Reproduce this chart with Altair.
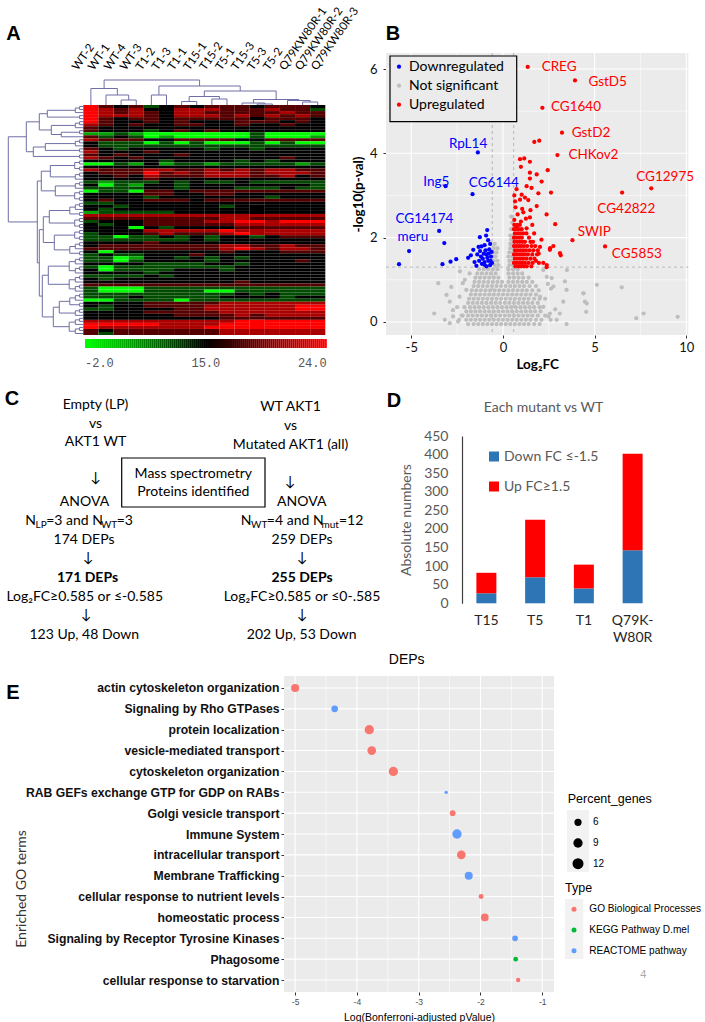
import altair as alt
import numpy as np
import pandas as pd

# ============================ panel A : clustered heat map ============================
samples = ["WT-2", "WT-1", "WT-4", "WT-3", "T1-2", "T1-3", "T1-1", "T15-1",
           "T15-2", "T5-1", "T15-3", "T5-3", "T5-2",
           "Q79KW80R-1", "Q79KW80R-2", "Q79KW80R-3"]

# intensity codes: G bright green ... k black ... X bright red
level_code = {"G": -2.0, "g": 4.0, "d": 10.0, "k": 15.0, "r": 18.0, "R": 21.0, "X": 24.0}

heat_rows = [
    "Xrkrdkrkrrrkrrrk", "XRrRkkRRRrrrRrrd", "XRrRrkRRrrrrrRrr", "XRRRrkRRRrRrRrRr",
    "Xrkrrkrrrrrkrrrk", "Xrkkrkrkkkrrrkrk", "Rrkrkkrrkkrkkrkk", "rkkkkkkkkkkkkkkk",
    "rkkkdkrkrkkkkkkk", "ggdgGGGGGGGdGGGG", "rdkdGgGGGGGdGGGg", "Rrrrkkrrrrkkrrrr",
    "kdddGdGdGGGdGdGG", "kddddddddddddddd", "rkdkkkkkdkkdkkkk", "Rkkkrkkkkkkkkkkk",
    "rkrkkkrkkkkkkkkk", "Rrkrkkkkkkkkkrkk", "kkkkkdkkkkdkdkkk", "GGdgkgddgdddddgd",
    "kkkkkkkkkkkkkkkk", "RrrrRRrrRrRrRRrr", "krrrXrRrRRRrRRRr", "kkrkRrrrRRRrrRkr",
    "kkkkrkkkkkkkkkkk", "dgdddkdkddkddddd", "kGdgkkdkkkkkkkkd", "ddddkkdkkkdddkdd",
    "GddGrrkrrrrrrrrr", "kkkkrrkkrrkkkkkk", "kkkkdkkkkkkkdkkk", "krkkrrrkrrrrrrrr",
    "ddkkkkkkkkkkkkkk", "kkdkkkkkkdkkkkkk", "kdkkkkkkkkkkkkkk", "gdddddkkkkkkkkkk",
    "RRRRRRRRRRRRRRRR", "rrrrrrrrrRRrrrrr", "dkkkrrrrRRXXRXXX", "kdkkrrrrrrRRRRRR",
    "kkkGkdkkkkrrrrrr", "kkkkRRRRRXRRRRRR", "dkkkrRrrrRXRRRRR", "ddGddkdkdkkdkrrr",
    "dddddddkdkkkkkkk", "kkkkrkkkkkkkkkkk", "krrrrrrrrRRrrRrr", "rrrrrrrrrRXRrRRr",
    "kGkkkkkkkrkkkrrr", "dkddkkkrkkkkkkkk", "ddGgkkdkdkdkkkkk", "ddGdkkkkdkkkkkrk",
    "kkkkddddkkdkkkkk", "dGddddddddkkkkkk", "kGddddkkkdkkkkkk", "kkkkdkkkkkkkkkkk",
    "ddddkdkkkkkkkkkk", "kdkkkkkkkkkkkkkk", "kkkkkkkkkkrkkkkk", "rrrrrrrrrrrrrrrr",
    "dGGGdddddddddddd", "dGGGddddGGdddddd", "ddddddddddkdkddd", "dddkdddddkkkkdkk",
    "GGddddGddddddddd", "kkkkrrrrrRRRRRRR", "kdkkrrrrRRRRRRXX", "ddkkkkrrRRRRRRXX",
    "kkkkrrrrrRRRRRRR", "kkkkkkrrrrRrRRRR", "kkkkkkkkkrrrrrrr", "RRRRRRRRRRXXXXXX",
    "XXXXXRRRRXXXXXXX", "XRRRRRRRXXXXXXXX", "rkrrrrrrrRRRRRRR", "rdrrrrrrrRRRRRRR",
]

# sample tree, scipy style: (left id, right id, merge height in px)
sample_merges = [(2, 3, 5.0), (1, 16, 10.0), (0, 17, 16.5), (4, 5, 10.0),
                 (6, 7, 3.5), (8, 9, 6.0), (20, 21, 8.5), (11, 12, 1.0),
                 (10, 23, 2.0), (14, 15, 3.0), (13, 25, 4.5), (24, 26, 5.5),
                 (22, 27, 14.0), (19, 28, 19.0), (18, 29, 25.0)]

# protein tree: [merge height px, left, right]; an integer is a tight block of rows
protein_tree = [75,
                [57, [44, [36, 3, 2], [32, 3, [22, 2, 1]]], [50, [38, 3, 2], 2]],
                [46, [42, [33, 4, 3], [28, 3, 4]],
                 [44, [40, [34, 5, 4], [29, 4, 5]],
                  [41, [35, 6, 6], [30, [24, 5, 3], 6]]]]]

# ============================ panel B : volcano plot ============================
gray_rows = [
    (-0.05, [-1.9, -1.6, -1.35, -1.1, -0.85, -0.6, -0.35, -0.1, 0.15, 0.4, 0.65, 0.9, 1.15, 1.4, 1.7, 2.0]),
    (0.05, [-2.4, -2.0, -1.75, -1.5, -1.25, -1.0, -0.75, -0.5, -0.25, 0.0, 0.25, 0.5, 0.75, 1.0, 1.25, 1.5, 1.8, 2.1, 2.6]),
    (0.15, [-2.2, -1.9, -1.65, -1.4, -1.15, -0.9, -0.65, -0.4, -0.15, 0.1, 0.35, 0.6, 0.85, 1.1, 1.35, 1.6, 1.9, 2.3]),
    (0.25, [-2.0, -1.75, -1.5, -1.25, -1.0, -0.75, -0.5, -0.25, 0.0, 0.25, 0.5, 0.75, 1.0, 1.25, 1.5, 1.75, 2.05]),
    (0.35, [-2.1, -1.8, -1.55, -1.3, -1.05, -0.8, -0.55, -0.3, -0.05, 0.2, 0.45, 0.7, 0.95, 1.2, 1.45, 1.7, 2.0]),
    (0.45, [-1.9, -1.65, -1.4, -1.15, -0.9, -0.65, -0.4, -0.15, 0.1, 0.35, 0.6, 0.85, 1.1, 1.35, 1.6, 1.9]),
    (0.55, [-1.85, -1.6, -1.35, -1.1, -0.85, -0.6, -0.35, -0.1, 0.15, 0.4, 0.65, 0.9, 1.15, 1.4, 1.7, 2.0]),
    (0.65, [-1.75, -1.5, -1.25, -1.0, -0.75, -0.5, -0.25, 0.0, 0.25, 0.5, 0.75, 1.0, 1.25, 1.5, 1.8]),
    (0.75, [-1.7, -1.45, -1.2, -0.95, -0.7, -0.45, -0.2, 0.05, 0.3, 0.55, 0.8, 1.05, 1.3, 1.6, 1.95]),
    (0.85, [-1.6, -1.35, -1.1, -0.85, -0.6, -0.35, -0.1, 0.15, 0.4, 0.65, 0.9, 1.15, 1.45, 1.8]),
    (0.95, [-1.55, -1.3, -1.05, -0.8, -0.55, -0.3, -0.05, 0.3, 0.55, 0.8, 1.05, 1.3, 1.6]),
    (1.05, [-1.5, -1.25, -1.0, -0.75, -0.5, -0.25, 0.35, 0.6, 0.85, 1.1, 1.4]),
    (1.15, [-1.4, -1.15, -0.9, -0.65, -0.4, 0.3, 0.55, 0.8, 1.05]),
    (1.25, [-1.3, -1.05, -0.8, -0.55, -0.3, 0.3, 0.55, 0.8]),
    (1.35, [-1.0, -0.7, -0.45, -0.25, 0.35, 0.55]),
    (1.45, [-0.5, -0.3, 0.35, 0.5]),
    (1.55, [-0.55, -0.4, 0.3, 0.5]),
    (1.65, [-0.5, -0.35, 0.35, 0.55]),
    (1.75, [-0.5, -0.3, 0.4, 0.55]),
    (1.85, [-0.45, 0.4, 0.52]),
    (1.95, [0.45, 0.55]),
    (2.05, [0.4, 0.55]),
    (2.2, [0.45, 0.55]),
    (2.35, [0.5]),
    (2.5, [0.45]),
]
gray_sparse = [(-3.75, 0.2), (-3.53, 0.92), (-3.08, 0.64), (-3.17, 0.05), (-2.9, -0.03), (-2.9, 0.48),
               (-2.72, 0.13), (-2.45, 0.01), (-2.35, 1.2), (-2.08, 1.0), (-2.0, 0.76), (-2.37, 0.6),
               (-2.73, 0.28), (-2.19, 0.92), (-2.82, 0.83), (-1.82, 1.15), (-2.5, 0.35), (-2.25, 0.15),
               (2.2, 1.23), (2.39, 1.07), (2.66, 1.04), (2.75, 0.84), (3.38, 0.96), (3.47, 0.76),
               (3.29, 0.48), (4.38, 0.68), (4.47, 0.48), (2.2, 0.36), (2.48, 0.13), (2.93, 0.05),
               (2.02, 0.6), (5.12, 0.88), (6.48, 0.82), (7.27, 0.09), (7.67, 0.2), (9.53, 0.12),
               (3.49, 1.23), (4.4, 0.68), (4.57, 0.44), (4.54, 0.24), (2.62, 0.79), (3.47, -0.05),
               (2.56, 0.2), (2.3, 0.55), (2.85, 0.3), (3.1, 0.2), (2.45, 0.9)]

down_pts = [(-1.37, 4.02), (-3.13, 3.22), (-1.66, 3.03), (-3.48, 2.16), (-5.12, 1.68),
            (-3.2, 1.87), (-5.67, 1.37), (-3.3, 1.37), (-2.86, 1.43), (-2.55, 1.49), (-0.86, 2.18),
            (-1.26, 2.01), (-0.81, 1.94), (-0.7, 1.85), (-1.17, 1.79), (-1.0, 1.82), (-0.75, 1.72),
            (-1.62, 1.71), (-1.4, 1.6), (-1.75, 1.58), (-1.9, 1.52), (-1.2, 1.55), (-1.05, 1.62),
            (-0.9, 1.6), (-0.65, 1.55), (-0.8, 1.45), (-1.0, 1.42), (-1.15, 1.38), (-1.3, 1.45),
            (-0.7, 1.35), (-0.9, 1.32), (-1.55, 1.42), (-1.45, 1.33), (-0.62, 1.66), (-1.1, 1.5),
            (-0.85, 1.52), (-0.95, 1.7), (-0.68, 1.45), (-1.25, 1.68), (-0.78, 1.62), (-1.02, 1.36),
            (-0.6, 1.4), (-1.33, 1.78), (-0.92, 2.05)]

up_pts = [(1.35, 6.05), (3.93, 5.73), (2.15, 5.08), (3.22, 4.49), (2.97, 3.96), (8.09, 3.17),
          (6.5, 3.07), (3.79, 1.94), (5.57, 1.79),
          (1.71, 4.27), (1.98, 4.3), (0.93, 3.86), (1.16, 3.88), (1.47, 3.8), (0.98, 3.68),
          (1.47, 3.54), (1.84, 3.5), (2.44, 3.6), (2.11, 3.33), (1.47, 3.4), (2.62, 3.07),
          (0.74, 3.15), (1.29, 3.22), (1.56, 3.18), (1.02, 3.02), (1.93, 3.05), (0.62, 3.0),
          (0.66, 2.86), (0.93, 2.9), (1.38, 2.89), (1.84, 2.75), (0.68, 2.72), (1.11, 2.6),
          (1.47, 2.48), (2.38, 2.55), (0.8, 2.55), (2.85, 2.32), (0.62, 2.42), (0.98, 2.38),
          (1.29, 2.22), (1.7, 2.1), (0.74, 2.25), (2.02, 1.78), (2.57, 1.75), (2.75, 1.8),
          (3.11, 1.63), (3.15, 1.58), (2.56, 1.71), (2.38, 1.3), (2.2, 1.4), (2.39, 1.35),
          (1.8, 1.45), (1.95, 1.62), (2.1, 1.95), (1.6, 2.3), (1.25, 2.45), (1.05, 2.68),
          (1.5, 2.65), (1.2, 2.95)]
up_rows = [
    (2.3, [0.62, 0.78, 0.92]),
    (2.2, [0.6, 0.72, 0.86, 1.02]),
    (2.1, [0.65, 0.8, 0.95, 1.1, 1.28]),
    (2.0, [0.6, 0.73, 0.88, 1.03, 1.42]),
    (1.9, [0.63, 0.78, 0.92, 1.06, 1.2, 1.5, 1.64]),
    (1.8, [0.6, 0.74, 0.87, 1.0, 1.15, 1.32, 1.56, 1.76]),
    (1.7, [0.66, 0.8, 0.95, 1.1, 1.26, 1.45, 1.66, 1.9]),
    (1.6, [0.6, 0.73, 0.88, 1.03, 1.18, 1.36, 1.6, 1.86]),
    (1.5, [0.65, 0.8, 0.95, 1.1, 1.28, 1.5, 1.72]),
    (1.4, [0.6, 0.75, 0.9, 1.05, 1.2, 1.4, 1.62, 1.96]),
    (1.32, [0.68, 0.85, 1.0, 1.15, 1.3, 1.55]),
]

up_names = ["CREG", "GstD5", "CG1640", "GstD2", "CHKov2", "CG12975", "CG42822", "SWIP", "CG5853"]
up_label_fc = [2.11, 4.66, 2.62, 3.75, 3.57, 7.27, 5.15, 4.08, 5.94]
up_label_p = [6.05, 5.69, 5.09, 4.49, 3.96, 3.44, 2.67, 2.13, 1.61]
down_names = ["RpL14", "Ing5", "CG6144", "CG14174", "meru"]
down_label_fc = [-2.95, -4.35, -1.86, -5.86, -5.75]
down_label_p = [4.23, 3.32, 3.29, 2.44, 2.01]

# ============================ panel D : DEP counts ============================
mutants = ["T15", "T5", "T1", "Q79K-W80R"]
n_down = [27, 70, 40, 143]
n_up = [55, 155, 64, 259]
kinds = ["Down FC ≤-1.5", "Up FC≥1.5"]

# ============================ panel E : enrichment ============================
go_terms = ["actin cytoskeleton organization", "Signaling by Rho GTPases", "protein localization",
            "vesicle-mediated transport", "cytoskeleton organization",
            "RAB GEFs exchange GTP for GDP on RABs", "Golgi vesicle transport", "Immune System",
            "intracellular transport", "Membrane Trafficking",
            "cellular response to nutrient levels", "homeostatic process",
            "Signaling by Receptor Tyrosine Kinases", "Phagosome", "cellular response to starvation"]
go_logp = [-5.0, -4.36, -3.8, -3.76, -3.41, -2.555, -2.45, -2.38, -2.31, -2.19, -1.99, -1.93,
           -1.44, -1.43, -1.39]
go_pct = [7.0, 5.3, 9.0, 8.0, 9.0, 2.3, 4.2, 9.0, 8.0, 7.0, 3.5, 6.6, 4.2, 3.3, 3.0]
type_names = ["GO Biological Processes", "KEGG Pathway D.mel", "REACTOME pathway"]
go_type = [0, 2, 0, 0, 0, 2, 0, 2, 0, 2, 0, 0, 2, 1, 0]

# ============================ flow chart (panel C) ============================
c_lines = [("Empty (LP)", 95.5, 405, False), ("vs", 95.5, 424, False), ("AKT1 WT", 95.5, 442, False),
           ("↓", 95.5, 478, False), ("ANOVA", 84.5, 502, False), ("174 DEPs", 84.0, 540, False),
           ("↓", 88.0, 558, False), ("171 DEPs", 87.5, 578, True),
           ("Log₂FC≥0.585 or ≤-0.585", 84.7, 597, False), ("↓", 86.0, 615, False),
           ("123 Up, 48 Down", 84.3, 635, False),
           ("WT AKT1", 290.5, 407, False), ("vs", 290.5, 426, False),
           ("Mutated AKT1 (all)", 290.5, 445, False), ("↓", 290.0, 482, False),
           ("ANOVA", 301.7, 502, False), ("259 DEPs", 302.0, 540, False), ("↓", 302.0, 558, False),
           ("255 DEPs", 302.0, 578, True), ("Log₂FC≥0.585 or ≤0-.585", 302.0, 597, False),
           ("↓", 302.0, 615, False), ("202 Up, 53 Down", 301.7, 635, False),
           ("Mass spectrometry", 193.3, 474, False), ("Proteins identified", 193.3, 492, False)]
# group sizes written with subscripts: (pieces, centre x, y); True marks a subscript
c_sub_lines = [([("N", False), ("LP", True), ("=3 and N", False), ("WT", True), ("=3", False)], 79.0, 521),
               ([("N", False), ("WT", True), ("=4 and N", False), ("mut", True), ("=12", False)], 302.0, 521)]
c_box = (121.7, 265.0, 458.0, 507.0)

FONT = "Lato"
ARIAL = "Liberation Sans"
PAGE_W, PAGE_H = 705, 1022

# The whole figure is one canvas; every panel owns its scales, whose ranges are the
# pixel extents of that panel's plotting area.


def letter(ch, x, y):
    return alt.Chart(pd.DataFrame({"t": [ch]})).mark_text(
        font=ARIAL, fontWeight="bold", fontSize=20, align="center", baseline="middle", color="black"
    ).encode(text="t:N", x=alt.value(x), y=alt.value(y))


def note(txt, x, y, **kw):
    opts = dict(font=FONT, fontSize=14, align="center", baseline="middle", color="black")
    opts.update(kw)
    return alt.Chart(pd.DataFrame({"t": [txt]})).mark_text(**opts).encode(
        text="t:N", x=alt.value(x), y=alt.value(y))


def one():
    return pd.DataFrame({"a": [0]})


layers = []

# ------------------------------------------------------------------ panel A
HEAT_X0, HEAT_X1, HEAT_Y0, HEAT_Y1 = 83.3, 325.3, 105.0, 335.0
n_cols, n_rows = len(samples), len(heat_rows)
COL_PX = (HEAT_X1 - HEAT_X0) / n_cols
ROW_PX = (HEAT_Y1 - HEAT_Y0) / n_rows
axs = alt.Scale(domain=[0, n_cols], range=[HEAT_X0, HEAT_X1], nice=False, zero=False)
ays = alt.Scale(domain=[0, n_rows], range=[HEAT_Y0, HEAT_Y1], nice=False, zero=False)
heat_color = alt.Scale(domain=[-2, 15, 24], range=["#00ff00", "#000000", "#ff0000"], interpolate="rgb")


def ax_(f):
    return alt.X(f, scale=axs, axis=None)


def ay_(f):
    return alt.Y(f, scale=ays, axis=None)


cells = []
for r, row in enumerate(heat_rows):
    row = row[:n_cols].ljust(n_cols, "k")
    for c, ch in enumerate(row):
        cells.append({"c": c, "c2": c + 1, "r": r, "r2": r + 1, "v": level_code[ch]})
heat_df = pd.DataFrame(cells)

segs = []


def row_link(c1, h1, c2, h2, h):
    segs.append((-h1 / COL_PX, c1, -h / COL_PX, c1))
    segs.append((-h2 / COL_PX, c2, -h / COL_PX, c2))
    segs.append((-h / COL_PX, c1, -h / COL_PX, c2))


counter = [0]


def block(n):
    if n == 1:
        r = counter[0]
        counter[0] += 1
        return r + 0.5, 0.0
    a = (n + 1) // 2
    c1, h1 = block(a)
    c2, h2 = block(n - a)
    h = max(h1, h2) + 2.5 + 0.6 * n
    row_link(c1, h1, c2, h2, h)
    return (c1 + c2) / 2, h


def grow(node):
    if isinstance(node, int):
        return block(node)
    h, left, right = node
    c1, h1 = grow(left)
    c2, h2 = grow(right)
    row_link(c1, h1, c2, h2, h)
    return (c1 + c2) / 2, h


grow(protein_tree)

pos = {i: (i + 0.5, 0.0) for i in range(n_cols)}
for k, (a, b, h) in enumerate(sample_merges):
    (xa, ha), (xb, hb) = pos[a], pos[b]
    segs.append((xa, -ha / ROW_PX, xa, -h / ROW_PX))
    segs.append((xb, -hb / ROW_PX, xb, -h / ROW_PX))
    segs.append((xa, -h / ROW_PX, xb, -h / ROW_PX))
    pos[n_cols + k] = ((xa + xb) / 2, h)
seg_df = pd.DataFrame(segs, columns=["x", "y", "x2", "y2"])

layers.append(alt.Chart(heat_df).mark_rect(strokeWidth=0).encode(
    x=ax_("c:Q"), x2="c2:Q", y=ay_("r:Q"), y2="r2:Q",
    color=alt.Color("v:Q", scale=heat_color, legend=None)))
layers.append(alt.Chart(seg_df).mark_rule(color="#6f6fa6", strokeWidth=1).encode(
    x=ax_("x:Q"), x2="x2:Q", y=ay_("y:Q"), y2="y2:Q"))

lab_df = pd.DataFrame({
    "t": samples,
    "x": [c + 0.5 + (-13 + 0.8 * c) / COL_PX for c in range(n_cols)],
    "y": [(71 - HEAT_Y0) / ROW_PX] * n_cols})
layers.append(alt.Chart(lab_df).mark_text(
    angle=305, align="left", baseline="alphabetic", font=FONT, fontSize=11.5, color="black"
).encode(x=ax_("x:Q"), y=ay_("y:Q"), text="t:N"))

# colour key under the heat map (value -> position is piecewise, like the colour scale)
CB_X0, CB_X1 = (85 - HEAT_X0) / COL_PX, (326.7 - HEAT_X0) / COL_PX
CB_Y0, CB_Y1 = (339 - HEAT_Y0) / ROW_PX, (348 - HEAT_Y0) / ROW_PX
n_cb = 120
cb_df = pd.DataFrame({
    "x": [CB_X0 + (CB_X1 - CB_X0) * i / n_cb for i in range(n_cb)],
    "x2": [CB_X0 + (CB_X1 - CB_X0) * (i + 1.05) / n_cb for i in range(n_cb)],
    "y": [CB_Y0] * n_cb, "y2": [CB_Y1] * n_cb,
    "v": [float(np.interp((i + 0.5) / n_cb, [0, 0.5, 1], [-2, 15, 24])) for i in range(n_cb)]})
layers.append(alt.Chart(cb_df).mark_rect(strokeWidth=0).encode(
    x=ax_("x:Q"), x2="x2:Q", y=ay_("y:Q"), y2="y2:Q",
    color=alt.Color("v:Q", scale=heat_color, legend=None)))
cb_lab_y = (362.5 - HEAT_Y0) / ROW_PX
for txt, xv, al in [("-2.0", CB_X0, "left"), ("15.0", (CB_X0 + CB_X1) / 2, "center"), ("24.0", CB_X1, "right")]:
    layers.append(alt.Chart(pd.DataFrame({"t": [txt], "x": [xv], "y": [cb_lab_y]})).mark_text(
        font="Liberation Mono", fontSize=12, color="#555555", align=al, baseline="middle"
    ).encode(x=ax_("x:Q"), y=ay_("y:Q"), text="t:N"))
layers.append(letter("A", 13.5, 34))

# ------------------------------------------------------------------ panel B
BX0, BX1, BY0, BY1 = 386.0, 688.3, 53.0, 335.0
bxs = alt.Scale(domain=[-6.38, 10.11], range=[BX0, BX1], nice=False, zero=False)
bys = alt.Scale(domain=[-0.31, 6.38], range=[BY1, BY0], nice=False, zero=False)
bx_axis = alt.Axis(orient="bottom", offset=BY1 - PAGE_H, values=[-5, 0, 5, 10], grid=False, domain=False,
                   tickColor="#333333", tickSize=3, labelFont=FONT, labelFontSize=13, labelColor="#111111",
                   labelPadding=3, labelExpr="'' + datum.value", title="Log₂FC", titleFont=FONT,
                   titleFontSize=13.5, titleFontWeight="bold", titleColor="black", titlePadding=3)
by_axis = alt.Axis(orient="left", offset=-BX0, values=[0, 2, 4, 6], grid=False, domain=False,
                   tickColor="#333333", tickSize=3, labelFont=FONT, labelFontSize=13, labelColor="#111111",
                   labelPadding=6, title="-log10(p-val)", titleFont=FONT, titleFontSize=13.5,
                   titleFontWeight="bold", titleColor="black", titlePadding=4)


def bx(field, axis=None):
    return alt.X(field, scale=bxs, axis=axis)


def by(field, axis=None):
    return alt.Y(field, scale=bys, axis=axis)


gray_df = pd.DataFrame([(fc, p) for p, fcs in gray_rows for fc in fcs] + gray_sparse, columns=["fc", "p"])
down_df = pd.DataFrame(down_pts, columns=["fc", "p"])
up_df = pd.DataFrame(up_pts + [(fc, p) for p, fcs in up_rows for fc in fcs], columns=["fc", "p"])

layers.append(alt.Chart(one()).mark_rect(color="#ebebeb").encode(
    x=alt.value(BX0), x2=alt.value(BX1), y=alt.value(BY0), y2=alt.value(BY1)))
for vals, w in [([-2.5, 2.5, 7.5], 0.55), ([-5, 0, 5, 10], 1.1)]:
    layers.append(alt.Chart(pd.DataFrame({"v": vals})).mark_rule(color="white", strokeWidth=w).encode(
        x=bx("v:Q"), y=alt.value(BY0), y2=alt.value(BY1)))
for vals, w in [([1, 3, 5], 0.55), ([0, 2, 4, 6], 1.1)]:
    layers.append(alt.Chart(pd.DataFrame({"v": vals})).mark_rule(color="white", strokeWidth=w).encode(
        y=by("v:Q"), x=alt.value(BX0), x2=alt.value(BX1)))
layers.append(alt.Chart(pd.DataFrame({"v": [-0.585, 0.585]})).mark_rule(
    color="#a0a0a0", strokeWidth=0.7, strokeDash=[3, 3]).encode(
    x=bx("v:Q"), y=alt.value(BY0), y2=alt.value(BY1)))
layers.append(alt.Chart(pd.DataFrame({"v": [1.3]})).mark_rule(
    color="#a0a0a0", strokeWidth=0.7, strokeDash=[3, 3]).encode(
    y=by("v:Q"), x=alt.value(BX0), x2=alt.value(BX1)))
layers.append(alt.Chart(gray_df).mark_circle(size=18, color="#bebebe", opacity=1).encode(
    x=bx("fc:Q", bx_axis), y=by("p:Q", by_axis)))
layers.append(alt.Chart(down_df).mark_circle(size=18, color="#0000ff", opacity=1).encode(
    x=bx("fc:Q"), y=by("p:Q")))
layers.append(alt.Chart(up_df).mark_circle(size=18, color="#ff0000", opacity=1).encode(
    x=bx("fc:Q"), y=by("p:Q")))
layers.append(alt.Chart(pd.DataFrame({"t": up_names, "fc": up_label_fc, "p": up_label_p})).mark_text(
    font=FONT, fontSize=13.5, color="#ff0000", align="left", baseline="middle").encode(
    x=bx("fc:Q"), y=by("p:Q"), text="t:N"))
layers.append(alt.Chart(pd.DataFrame({"t": down_names, "fc": down_label_fc, "p": down_label_p})).mark_text(
    font=FONT, fontSize=13.5, color="#0000ff", align="left", baseline="middle").encode(
    x=bx("fc:Q"), y=by("p:Q"), text="t:N"))

layers.append(alt.Chart(one()).mark_rect(fill="#ebebeb", stroke="black", strokeWidth=1.2).encode(
    x=alt.value(BX0 + 4), x2=alt.value(BX0 + 130.7), y=alt.value(BY0 + 3), y2=alt.value(BY0 + 68.7)))
for i, (name, col) in enumerate([("Downregulated", "#0000ff"), ("Not significant", "#bebebe"),
                                  ("Upregulated", "#ff0000")]):
    yy = BY0 + 13.7 + 19.0 * i
    layers.append(alt.Chart(one()).mark_circle(size=18, color=col, opacity=1).encode(
        x=alt.value(BX0 + 13), y=alt.value(yy)))
    layers.append(note(name, BX0 + 23, yy, align="left"))
layers.append(letter("B", 393, 34))

# ------------------------------------------------------------------ panel C (flow chart, page pixels)
cxs = alt.Scale(domain=[0, PAGE_W], range=[0, PAGE_W], nice=False, zero=False)
cys = alt.Scale(domain=[0, PAGE_H], range=[0, PAGE_H], nice=False, zero=False)


def cx_(f):
    return alt.X(f, scale=cxs, axis=None)


def cy_(f):
    return alt.Y(f, scale=cys, axis=None)


lines_df = pd.DataFrame(c_lines, columns=["t", "x", "y", "bold"])
lato_em = {"N": 0.746, "L": 0.47, "P": 0.59, "W": 0.99, "T": 0.585, "m": 0.835, "u": 0.555,
           "t": 0.35, "=": 0.58, " ": 0.193, "a": 0.49, "n": 0.555, "d": 0.57}
MAIN_FS, SUB_FS = 14, 10
pieces = []
for parts, cx, cy in c_sub_lines:
    widths = [sum(lato_em.get(ch, 0.58) for ch in s) * (SUB_FS if sub else MAIN_FS) for s, sub in parts]
    x = cx - sum(widths) / 2
    for (s, sub), w in zip(parts, widths):
        pieces.append({"t": s, "x": x, "y": cy + (4 if sub else 0), "sub": sub})
        x += w
pieces_df = pd.DataFrame(pieces)

layers.append(alt.Chart(pd.DataFrame({"x": [c_box[0]], "x2": [c_box[1]], "y": [c_box[2]], "y2": [c_box[3]]})
                        ).mark_rect(fill="white", stroke="black", strokeWidth=1.2).encode(
    x=cx_("x:Q"), x2="x2:Q", y=cy_("y:Q"), y2="y2:Q"))
layers.append(alt.Chart(lines_df[~lines_df["bold"]]).mark_text(
    font=FONT, fontSize=MAIN_FS, color="black", align="center", baseline="middle").encode(
    x=cx_("x:Q"), y=cy_("y:Q"), text="t:N"))
layers.append(alt.Chart(lines_df[lines_df["bold"]]).mark_text(
    font=FONT, fontSize=MAIN_FS, fontWeight="bold", color="black", align="center", baseline="middle").encode(
    x=cx_("x:Q"), y=cy_("y:Q"), text="t:N"))
layers.append(alt.Chart(pieces_df[~pieces_df["sub"]]).mark_text(
    font=FONT, fontSize=MAIN_FS, color="black", align="left", baseline="middle").encode(
    x=cx_("x:Q"), y=cy_("y:Q"), text="t:N"))
layers.append(alt.Chart(pieces_df[pieces_df["sub"]]).mark_text(
    font=FONT, fontSize=SUB_FS, color="black", align="left", baseline="middle").encode(
    x=cx_("x:Q"), y=cy_("y:Q"), text="t:N"))
layers.append(letter("C", 12, 398.5))

# ------------------------------------------------------------------ panel D
DX0, DX1, DY0, DY1 = 462.0, 657.0, 436.0, 603.3
d_df = pd.DataFrame({"mutant": mutants * 2, "n": n_down + n_up,
                     "kind": [kinds[0]] * 4 + [kinds[1]] * 4, "ord": [0] * 4 + [1] * 4})
layers.append(alt.Chart(d_df).mark_bar().encode(
    x=alt.X("mutant:N", sort=mutants,
            scale=alt.Scale(domain=mutants, range=[DX0, DX1], paddingInner=0.59, paddingOuter=0.295),
            axis=alt.Axis(orient="bottom", offset=DY1 - PAGE_H, title=None, domain=False, ticks=False,
                          tickSize=0, labelAngle=0, labelFont=FONT, labelFontSize=14, labelColor="#262626",
                          labelPadding=10, labelLineHeight=17, labelBaseline="top",
                          labelExpr="datum.value == 'Q79K-W80R' ? ['Q79K-', 'W80R'] : datum.value")),
    y=alt.Y("n:Q", stack="zero", scale=alt.Scale(domain=[0, 450], range=[DY1, DY0], nice=False, zero=True),
            axis=alt.Axis(orient="left", offset=-DX0, values=list(range(0, 451, 50)), grid=False,
                          ticks=False, tickSize=0, domain=True, domainColor="#404040", domainWidth=1.2,
                          labelFont=FONT, labelFontSize=14, labelColor="#595959", labelPadding=14,
                          title="Absolute numbers", titleFont=FONT, titleFontSize=14,
                          titleFontWeight="normal", titleColor="#595959", titlePadding=10)),
    color=alt.Color("kind:N", scale=alt.Scale(domain=kinds, range=["#2e75b6", "#ff0000"]),
                    legend=alt.Legend(orient="none", legendX=DX0 + 25, legendY=DY0 + 13.5, title=None,
                                      symbolType="square", symbolSize=100, symbolStrokeWidth=0,
                                      labelFont=FONT, labelFontSize=14, labelColor="#595959",
                                      rowPadding=16, labelOffset=3, padding=0)),
    order=alt.Order("ord:Q")))
layers.append(note("Each mutant vs WT", 543.5, 408, color="#595959"))
layers.append(letter("D", 394, 401))

# ------------------------------------------------------------------ panel E
EX0, EX1, EY0, EY1 = 284.0, 554.0, 676.0, 992.0
exs = alt.Scale(domain=[-5.18, -0.81], range=[EX0, EX1], nice=False, zero=False)
eys = alt.Scale(type="point", domain=go_terms, range=[EY0, EY1], padding=0.575)
esz = alt.Scale(domain=[2, 12], range=[7.6, 120.6])
ecol = alt.Scale(domain=type_names, range=["#F8766D", "#00BA38", "#619CFF"])
ex_axis = alt.Axis(orient="bottom", offset=EY1 - PAGE_H, values=[-5, -4, -3, -2, -1],
                   labelExpr="'' + datum.value", labelFont=ARIAL, labelFontSize=8.5, labelColor="#4d4d4d",
                   tickColor="#333333", tickSize=3, labelPadding=2, domain=False, grid=False,
                   title="Log(Bonferroni-adjusted pValue)", titleFont=ARIAL, titleFontSize=10.5,
                   titleFontWeight="normal", titleColor="black", titlePadding=7)
ey_axis = alt.Axis(orient="left", offset=-EX0, labelFont=ARIAL, labelFontWeight="bold", labelFontSize=12.2,
                   labelColor="#111111", tickColor="#333333", tickSize=3, labelPadding=2, domain=False,
                   grid=False, title=None, labelLimit=400)

e_df = pd.DataFrame({"term": go_terms, "logp": go_logp, "pct": go_pct,
                     "type": [type_names[i] for i in go_type]})
layers.append(alt.Chart(one()).mark_rect(color="#ebebeb").encode(
    x=alt.value(EX0), x2=alt.value(EX1), y=alt.value(EY0), y2=alt.value(EY1)))
for vals, w in [([-4.5, -3.5, -2.5, -1.5], 0.6), ([-5, -4, -3, -2, -1], 1.1)]:
    layers.append(alt.Chart(pd.DataFrame({"v": vals})).mark_rule(color="white", strokeWidth=w).encode(
        x=alt.X("v:Q", scale=exs, axis=None), y=alt.value(EY0), y2=alt.value(EY1)))
layers.append(alt.Chart(pd.DataFrame({"term": go_terms})).mark_rule(color="white", strokeWidth=1.1).encode(
    y=alt.Y("term:N", scale=eys, axis=None), x=alt.value(EX0), x2=alt.value(EX1)))
layers.append(alt.Chart(e_df).mark_circle(opacity=1).encode(
    x=alt.X("logp:Q", scale=exs, axis=ex_axis),
    y=alt.Y("term:N", scale=eys, axis=ey_axis),
    size=alt.Size("pct:Q", scale=esz, legend=None),
    color=alt.Color("type:N", scale=ecol, legend=None)))

layers.append(note("DEPs", 406.7, 660, font=ARIAL, fontSize=14))
layers.append(note("Percent_genes", 567.7, 799, font=ARIAL, fontSize=12.5, align="left"))
layers.append(alt.Chart(one()).mark_rect(color="#f2f2f2").encode(
    x=alt.value(567), x2=alt.value(589), y=alt.value(810), y2=alt.value(872)))
layers.append(note("Type", 565, 888, font=ARIAL, fontSize=12.5, align="left"))
layers.append(alt.Chart(one()).mark_rect(color="#f2f2f2").encode(
    x=alt.value(565), x2=alt.value(583.3), y=alt.value(899), y2=alt.value(959)))
layers.append(note("4", 643.3, 975, font=ARIAL, fontSize=11, color="#aaaaaa"))
for pv, yy in zip([6, 9, 12], [822.3, 843, 863.7]):
    layers.append(alt.Chart(pd.DataFrame({"pct": [pv]})).mark_circle(color="black", opacity=1).encode(
        x=alt.value(578), y=alt.value(yy), size=alt.Size("pct:Q", scale=esz, legend=None)))
    layers.append(note(str(pv), 593, yy, font=ARIAL, fontSize=10, align="left"))
for tn, yy in zip(type_names, [909.3, 930, 950.7]):
    layers.append(alt.Chart(pd.DataFrame({"type": [tn]})).mark_circle(size=25, opacity=1).encode(
        x=alt.value(574), y=alt.value(yy), color=alt.Color("type:N", scale=ecol, legend=None)))
    layers.append(note(tn, 589.3, yy, font=ARIAL, fontSize=10.1, align="left"))
layers.append(letter("E", 13, 692.5))
layers.append(note("Enriched GO terms", 22, 889, angle=270, color="#333333"))

chart = alt.layer(*layers).resolve_scale(
    x="independent", y="independent", color="independent", size="independent"
).resolve_axis(x="independent", y="independent").resolve_legend(
    color="independent", size="independent"
).properties(
    width=PAGE_W, height=PAGE_H,
    autosize=alt.AutoSizeParams(type="none"),
    padding={"left": 0, "top": 0, "right": 0, "bottom": 0},
    background="white",
).configure_view(strokeWidth=0)

chart.save("out.html", embed_options={"renderer": "svg", "actions": False})
